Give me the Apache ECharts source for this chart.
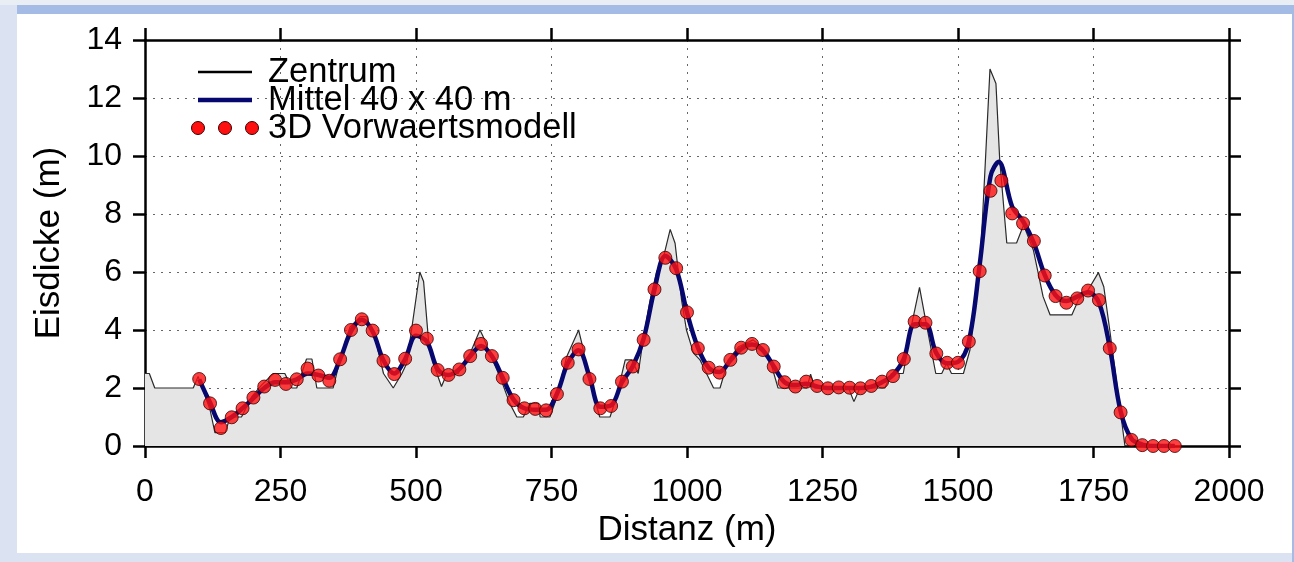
<!DOCTYPE html>
<html>
<head>
<meta charset="utf-8">
<script src="https://cdn.jsdelivr.net/npm/echarts@6/dist/echarts.min.js"></script>
<style>
  html, body { margin: 0; padding: 0; width: 1294px; height: 562px; overflow: hidden; background: #dbe3f2; }
  #topband { position: absolute; left: 0; top: 0; width: 1294px; height: 5px; background: #e9edf4; }
  #bluebar { position: absolute; left: 17px; top: 5px; width: 1277px; height: 9px; background: #a3bbe5; }
  #panel { position: absolute; left: 17px; top: 14px; width: 1275px; height: 539px; background: #ffffff; }
  #rightbar { position: absolute; left: 1292px; top: 5px; width: 2px; height: 557px; background: #a3bbe5; }
  #chart { position: absolute; left: 0; top: 0; width: 1294px; height: 562px; }
</style>
</head>
<body>
<div id="topband"></div>
<div id="bluebar"></div>
<div id="panel"></div>
<div id="rightbar"></div>
<div id="chart"></div>
<script>
// ---- data ----
const xTicks = [0, 250, 500, 750, 1000, 1250, 1500, 1750, 2000];
const yTicks = [0, 2, 4, 6, 8, 10, 12, 14];

// Zentrum (profile along the centre) : distance (m), ice thickness (m)
const zentrumX = [0, 8, 18, 89, 98, 120, 129, 148, 157, 178, 197, 215, 237, 258, 271, 280, 298, 308, 317, 347,
  360, 378, 397, 409, 427, 440, 458, 474, 483, 507, 514, 523, 532, 547, 557, 578, 587, 600, 618, 624,
  637, 655, 673, 686, 698, 710, 726, 729, 747, 760, 778, 800, 806, 818, 839, 858, 870, 886, 898, 910,
  919, 932, 944, 956, 969, 978, 990, 999, 1012, 1024, 1036, 1049, 1061, 1076, 1095, 1122, 1141, 1153, 1168, 1221,
  1228, 1236, 1298, 1308, 1319, 1365, 1377, 1399, 1415, 1429, 1439, 1459, 1470, 1479, 1488, 1510, 1522, 1541, 1550, 1559,
  1570, 1577, 1590, 1608, 1621, 1639, 1657, 1670, 1710, 1722, 1740, 1759, 1769, 1780, 1808];
const zentrumY = [2.5, 2.5, 2.0, 2.0, 2.4, 1.25, 0.46, 0.46, 1.0, 1.0, 1.7, 2.1, 2.5, 2.5, 2.0, 2.0, 3.0, 3.0, 2.0, 2.0,
  2.97, 4.1, 4.46, 4.46, 3.54, 2.5, 2.0, 2.5, 2.85, 6.0, 5.67, 3.66, 2.85, 2.05, 2.5, 2.5, 2.85, 3.2, 4.0, 3.77,
  3.14, 2.39, 1.47, 1.0, 1.0, 1.47, 1.47, 1.0, 1.0, 1.7, 3.08, 4.0, 3.54, 2.39, 1.0, 1.0, 1.7, 2.97, 2.97, 2.5,
  3.66, 5.03, 6.01, 6.47, 7.47, 6.99, 5.03, 4.0, 3.2, 2.97, 2.5, 2.0, 2.0, 2.97, 3.42, 3.66, 3.37, 2.97, 2.0, 2.0,
  2.48, 2.0, 2.0, 1.53, 2.0, 2.0, 2.5, 2.5, 4.23, 5.47, 4.46, 2.5, 2.5, 2.85, 2.5, 2.5, 3.31, 6.3, 9.63, 13.0,
  12.5, 9.86, 7.0, 7.0, 7.62, 6.76, 5.15, 4.52, 4.52, 5.03, 5.38, 5.98, 5.49, 4.0, 0];

// Mittel 40 x 40 m
const mittelX = [100, 120, 140, 160, 180, 200, 220, 240, 260, 280, 300, 320, 340, 360, 380, 400, 420, 440, 460, 480,
  500, 520, 540, 560, 580, 600, 620, 640, 660, 680, 700, 720, 740, 760, 780, 800, 820, 840, 860, 880,
  900, 920, 940, 960, 980, 1000, 1020, 1040, 1060, 1080, 1100, 1120, 1140, 1160, 1180, 1200, 1220, 1240, 1260, 1280,
  1300, 1320, 1340, 1360, 1380, 1400, 1420, 1440, 1460, 1480, 1500, 1520, 1540, 1560, 1575, 1600, 1620, 1640, 1660, 1680,
  1700, 1720, 1740, 1760, 1780, 1800, 1820, 1840, 1860, 1880, 1900];
const mittelY = [2.3, 1.5, 0.82, 1.0, 1.3, 1.65, 2.0, 2.2, 2.2, 2.3, 2.5, 2.45, 2.35, 3.0, 3.95, 4.35, 3.95, 2.95, 2.5, 3.0,
  3.8, 3.6, 2.65, 2.45, 2.65, 3.1, 3.45, 3.1, 2.35, 1.6, 1.3, 1.25, 1.25, 1.8, 2.85, 3.3, 2.4, 1.35, 1.4, 2.2,
  2.75, 3.7, 5.4, 6.55, 6.1, 4.6, 3.4, 2.7, 2.55, 2.95, 3.35, 3.5, 3.3, 2.75, 2.2, 2.1, 2.15, 2.05, 2.0, 2.0,
  2.0, 2.0, 2.05, 2.2, 2.45, 3.0, 4.2, 4.2, 3.2, 2.85, 2.9, 3.6, 6.25, 9.3, 9.8, 8.25, 7.75, 7.0, 5.9, 5.2,
  5.0, 5.15, 5.3, 4.95, 3.4, 1.2, 0.25, 0.05, 0, 0, 0];

// 3D Vorwaertsmodell (every 20 m from 100 to 1900 m)
const modellX = [100, 120, 140, 160, 180, 200, 220, 240, 260, 280, 300, 320, 340, 360, 380, 400, 420, 440, 460, 480,
  500, 520, 540, 560, 580, 600, 620, 640, 660, 680, 700, 720, 740, 760, 780, 800, 820, 840, 860, 880,
  900, 920, 940, 960, 980, 1000, 1020, 1040, 1060, 1080, 1100, 1120, 1140, 1160, 1180, 1200, 1220, 1240, 1260, 1280,
  1300, 1320, 1340, 1360, 1380, 1400, 1420, 1440, 1460, 1480, 1500, 1520, 1540, 1560, 1580, 1600, 1620, 1640, 1660, 1680,
  1700, 1720, 1740, 1760, 1780, 1800, 1820, 1840, 1860, 1880, 1900];
const modellY = [2.31, 1.47, 0.62, 0.99, 1.30, 1.67, 2.05, 2.28, 2.14, 2.30, 2.67, 2.43, 2.25, 2.99, 4.0, 4.37, 3.98, 2.94, 2.48, 3.01,
  3.98, 3.70, 2.62, 2.45, 2.64, 3.10, 3.52, 3.10, 2.35, 1.58, 1.30, 1.28, 1.23, 1.79, 2.87, 3.33, 2.31, 1.30, 1.38, 2.22,
  2.74, 3.66, 5.40, 6.49, 6.13, 4.61, 3.37, 2.70, 2.53, 2.97, 3.39, 3.52, 3.31, 2.74, 2.20, 2.05, 2.22, 2.07, 1.99, 2.02,
  2.01, 1.99, 2.07, 2.22, 2.41, 3.0, 4.29, 4.25, 3.19, 2.87, 2.87, 3.60, 6.03, 8.80, 9.15, 8.02, 7.68, 7.07, 5.88, 5.17,
  4.94, 5.09, 5.36, 5.03, 3.37, 1.16, 0.21, 0.03, 0.0, 0.0, 0.0];

const legendNames = ['Zentrum', 'Mittel 40 x 40 m', '3D Vorwaertsmodell'];
const xName = 'Distanz (m)';
const yName = 'Eisdicke (m)';

// ---- chart ----
const pairs = (xs, ys) => xs.map((x, i) => [x, ys[i]]);
const FONT = '"Liberation Sans", Arial, Helvetica, sans-serif';
const FS = 32;      // tick labels
const FS_NAME = 35; // axis titles
const FS_LEG = 34.5;  // legend text
const AX = { onZero: false, lineStyle: { color: '#000', width: 2.5 } };
const TICK = { show: true, inside: false, length: 12, lineStyle: { color: '#000', width: 2.5 } };
const SPLIT = { show: true, lineStyle: { color: '#666', width: 1, type: [2, 6] } };

const chart = echarts.init(document.getElementById('chart'), null, { renderer: 'canvas' });

const legendX0 = 198, legendX1 = 252, legendText = 268;
const rowY = [72, 100, 128];
const RED = '#ff1010', RED_BORDER = '#3a0000', NAVY = '#070770';

chart.setOption({
  backgroundColor: 'transparent',
  animation: false,
  grid: { left: 145, right: 65, top: 40, bottom: 116, containLabel: false },
  xAxis: [
    {
      type: 'value', min: xTicks[0], max: xTicks[xTicks.length - 1], interval: 250,
      position: 'bottom',
      axisLine: AX, axisTick: TICK, splitLine: SPLIT,
      axisLabel: { color: '#000', fontSize: FS, fontFamily: FONT, margin: 30,
        formatter: v => (xTicks.indexOf(v) >= 0 ? String(v) : '') },
      name: xName, nameLocation: 'middle', nameGap: 64,
      nameTextStyle: { color: '#000', fontSize: FS_NAME, fontFamily: FONT }
    },
    {
      type: 'value', min: xTicks[0], max: xTicks[xTicks.length - 1], interval: 250,
      position: 'top',
      axisLine: AX, axisTick: TICK, splitLine: { show: false }, axisLabel: { show: false }
    }
  ],
  yAxis: [
    {
      type: 'value', min: yTicks[0], max: yTicks[yTicks.length - 1], interval: 2,
      position: 'left',
      axisLine: AX, axisTick: TICK, splitLine: SPLIT,
      axisLabel: { color: '#000', fontSize: FS, fontFamily: FONT, margin: 23,
        formatter: v => (yTicks.indexOf(v) >= 0 ? String(v) : '') },
      name: yName, nameLocation: 'middle', nameGap: 78,
      nameTextStyle: { color: '#000', fontSize: FS_NAME, fontFamily: FONT }
    },
    {
      type: 'value', min: yTicks[0], max: yTicks[yTicks.length - 1], interval: 2,
      position: 'right',
      axisLine: AX, axisTick: TICK, splitLine: { show: false }, axisLabel: { show: false }
    }
  ],
  series: [
    {
      name: legendNames[0], type: 'line', data: pairs(zentrumX, zentrumY),
      showSymbol: false, symbol: 'none', smooth: false,
      lineStyle: { color: '#2a2a2a', width: 1.2 },
      areaStyle: { color: '#e5e5e5', opacity: 1 },
      z: 2
    },
    {
      name: legendNames[1], type: 'line', data: pairs(mittelX, mittelY),
      showSymbol: false, symbol: 'none', smooth: 0.35,
      lineStyle: { color: NAVY, width: 4.5 },
      z: 3
    },
    {
      name: legendNames[2], type: 'scatter', data: pairs(modellX, modellY),
      symbol: 'circle', symbolSize: 13,
      itemStyle: { color: RED, borderColor: RED_BORDER, borderWidth: 1 },
      z: 4
    }
  ],
  graphic: [
    { type: 'line', shape: { x1: legendX0, y1: rowY[0], x2: legendX1, y2: rowY[0] }, style: { stroke: '#000', lineWidth: 2.5 }, z: 10 },
    { type: 'line', shape: { x1: legendX0, y1: rowY[1], x2: legendX1, y2: rowY[1] }, style: { stroke: NAVY, lineWidth: 4.5 }, z: 10 },
    { type: 'circle', shape: { cx: legendX0, cy: rowY[2], r: 6.5 }, style: { fill: RED, stroke: RED_BORDER, lineWidth: 1 }, z: 10 },
    { type: 'circle', shape: { cx: (legendX0 + legendX1) / 2, cy: rowY[2], r: 6.5 }, style: { fill: RED, stroke: RED_BORDER, lineWidth: 1 }, z: 10 },
    { type: 'circle', shape: { cx: legendX1, cy: rowY[2], r: 6.5 }, style: { fill: RED, stroke: RED_BORDER, lineWidth: 1 }, z: 10 },
    { type: 'text', x: legendText, y: rowY[0], style: { text: legendNames[0], fill: '#000', font: FS_LEG + 'px ' + FONT, verticalAlign: 'middle' }, z: 10 },
    { type: 'text', x: legendText, y: rowY[1], style: { text: legendNames[1], fill: '#000', font: FS_LEG + 'px ' + FONT, verticalAlign: 'middle' }, z: 10 },
    { type: 'text', x: legendText, y: rowY[2], style: { text: legendNames[2], fill: '#000', font: FS_LEG + 'px ' + FONT, verticalAlign: 'middle' }, z: 10 }
  ]
});
</script>
</body>
</html>
